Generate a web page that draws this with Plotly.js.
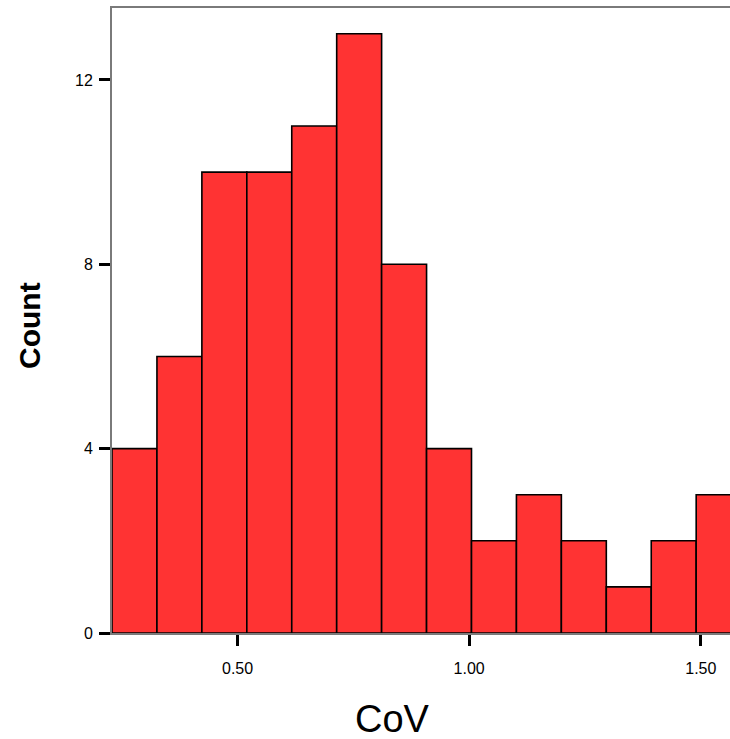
<!DOCTYPE html>
<html>
<head>
<meta charset="utf-8">
<script src="https://cdn.plot.ly/plotly-3.0.1.min.js"></script>
<style>html,body{margin:0;padding:0;background:#fff;}#chart{width:730px;height:739px;}</style>
</head>
<body>
<div id="chart"></div>
<script>
// Bin centers (CoV) and counts
const binCenters = [0.2775, 0.3745, 0.4715, 0.5685, 0.6655, 0.7625, 0.8595, 0.9565, 1.0535, 1.1505, 1.2475, 1.3445, 1.4415, 1.5385];
const counts     = [4, 6, 10, 10, 11, 13, 8, 4, 2, 3, 2, 1, 2, 3];
const binWidth = 0.097;
const xTickVals = [0.5, 1.0, 1.5];
const xTickText = ['0.50', '1.00', '1.50'];
const yTickVals = [0, 4, 8, 12];
const xTitle = 'CoV';
const yTitle = 'Count';

const trace = {
  type: 'bar',
  x: binCenters,
  y: counts,
  width: binCenters.map(() => binWidth),
  marker: { color: '#FF3333', line: { color: '#000000', width: 1.6 } },
  hoverinfo: 'x+y'
};

const layout = {
  width: 730, height: 739,
  margin: { l: 112, r: 0, t: 8, b: 106 },
  paper_bgcolor: '#ffffff', plot_bgcolor: '#ffffff',
  showlegend: false,
  bargap: 0,
  font: { family: 'Liberation Sans, Arial, sans-serif', color: '#000' },
  xaxis: {
    range: [0.229, 1.563],
    tickvals: xTickVals, ticktext: xTickText,
    ticks: 'outside', ticklen: 11, tickwidth: 3, tickcolor: '#000',
    ticklabelstandoff: 9,
    tickfont: { size: 16 },
    showgrid: false, zeroline: false,
    showline: true, linecolor: '#7a7a7a', linewidth: 2, mirror: true
  },
  yaxis: {
    range: [0, 13.56],
    tickvals: yTickVals,
    ticks: 'outside', ticklen: 11, tickwidth: 3, tickcolor: '#000',
    ticklabelstandoff: 3,
    tickfont: { size: 16 },
    showgrid: false, zeroline: false,
    showline: true, linecolor: '#7a7a7a', linewidth: 2
  },
  annotations: [
    { text: xTitle, xref: 'paper', yref: 'paper', x: (392 - 112) / 618, y: -(719 - 633) / 625,
      xanchor: 'center', yanchor: 'middle', showarrow: false,
      font: { size: 38, family: 'Liberation Sans, Arial, sans-serif' } },
    { text: '<b>' + yTitle + '</b>', xref: 'paper', yref: 'paper', x: -(112 - 30) / 618, y: (633 - 326) / 625,
      xanchor: 'center', yanchor: 'middle', textangle: -90, showarrow: false,
      font: { size: 30, family: 'Liberation Sans, Arial, sans-serif' } }
  ]
};

Plotly.newPlot('chart', [trace], layout, { displayModeBar: false, staticPlot: true });
</script>
</body>
</html>
